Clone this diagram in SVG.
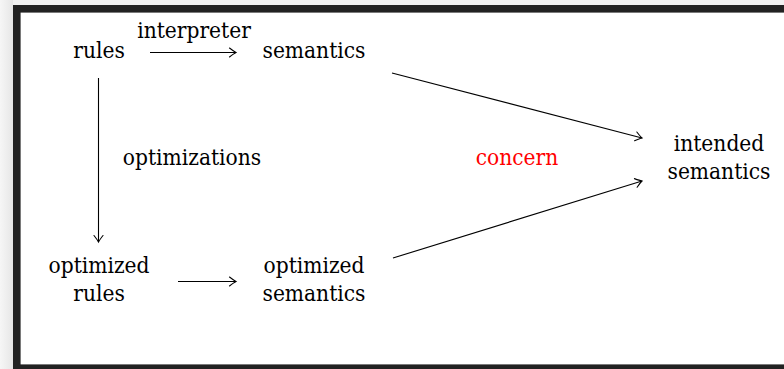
<svg xmlns="http://www.w3.org/2000/svg" width="784" height="369" viewBox="0 0 784 369">
<defs>
<style>
text{fill:#000;text-anchor:middle}
.red{fill:#ff0000}
.edge{stroke:#000;stroke-width:1.1;fill:none;marker-end:url(#tip)}
</style>
<marker id="tip" markerUnits="userSpaceOnUse" markerWidth="12" markerHeight="12" viewBox="-8 -6 10 12" refX="0" refY="0" orient="auto">
<path d="M-6.5,-4.5 Q-2,-1 0,0 Q-2,1 -6.5,4.5" fill="none" stroke="#000" stroke-width="1.1" stroke-linecap="round"/>
</marker>
<linearGradient id="shadow" x1="0" y1="0" x2="1" y2="0">
<stop offset="0" stop-color="#f6f6f6"/>
<stop offset="1" stop-color="#e6e6e6"/>
</linearGradient>
</defs>
<rect x="0" y="0" width="784" height="369" fill="#f1f1f1"/>
<rect x="0" y="0" width="13" height="369" fill="url(#shadow)"/>
<rect id="frame" x="16.8" y="8.8" width="800" height="359.4" fill="#ffffff" stroke="#222222" stroke-width="7.6"/>
<g id="connectors">
<line class="edge" x1="150" y1="52.5" x2="236" y2="52.5"/>
<line class="edge" x1="98.5" y1="78" x2="98.5" y2="242"/>
<line class="edge" x1="178" y1="281.5" x2="236" y2="281.5"/>
<line class="edge" x1="392" y1="73" x2="642" y2="138"/>
<line class="edge" x1="393" y1="258" x2="642" y2="181"/>
</g>
<g font-family="'DejaVu Serif Condensed', 'DejaVu Serif', serif" font-stretch="condensed" font-size="22.5">
<g id="rules"><text x="99" y="58">rules</text></g>
<g id="interpreter-label"><text x="194" y="38">interpreter</text></g>
<g id="semantics"><text x="314" y="58">semantics</text></g>
<g id="optimizations-label"><text x="192" y="165">optimizations</text></g>
<g id="concern-label"><text class="red" x="517" y="165">concern</text></g>
<g id="intended-semantics"><text x="719" y="151">intended</text><text x="719" y="179">semantics</text></g>
<g id="optimized-rules"><text x="99" y="273">optimized</text><text x="99" y="301">rules</text></g>
<g id="optimized-semantics"><text x="314" y="273">optimized</text><text x="314" y="301">semantics</text></g>
</g>
</svg>
